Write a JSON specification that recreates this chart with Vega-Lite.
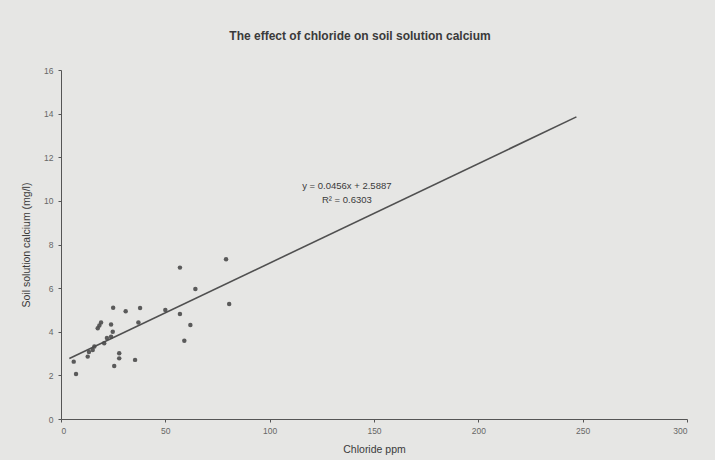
{
  "$schema": "https://vega.github.io/schema/vega-lite/v6.json",
  "autosize": "none",
  "width": 626,
  "height": 349,
  "padding": {"left": 61, "top": 70, "right": 28, "bottom": 41},
  "background": "#e6e6e4",
  "title": {
    "text": "The effect of chloride on soil solution calcium",
    "font": "Liberation Sans",
    "fontSize": 12,
    "fontWeight": "bold",
    "color": "#3a3a3a",
    "anchor": "middle",
    "dx": -14,
    "offset": 23
  },
  "config": {
    "view": {"stroke": null},
    "axis": {
      "labelFont": "Liberation Sans",
      "labelFontSize": 8.5,
      "labelColor": "#666666",
      "titleFont": "Liberation Sans",
      "titleFontSize": 10.5,
      "titleFontWeight": "normal",
      "titleColor": "#3a3a3a",
      "domainColor": "#555555",
      "tickColor": "#555555",
      "tickSize": 3,
      "grid": false
    }
  },
  "datasets": {
    "points": [
      {"chloride": 79.1, "calcium": 7.32},
      {"chloride": 57.0, "calcium": 6.94},
      {"chloride": 64.4, "calcium": 5.96},
      {"chloride": 80.6, "calcium": 5.27},
      {"chloride": 25.0, "calcium": 5.10},
      {"chloride": 31.0, "calcium": 4.94},
      {"chloride": 37.9, "calcium": 5.09},
      {"chloride": 50.0, "calcium": 5.0},
      {"chloride": 57.0, "calcium": 4.81},
      {"chloride": 37.1, "calcium": 4.42},
      {"chloride": 62.0, "calcium": 4.31},
      {"chloride": 59.1, "calcium": 3.59},
      {"chloride": 19.2, "calcium": 4.42},
      {"chloride": 18.4, "calcium": 4.29},
      {"chloride": 17.6, "calcium": 4.16},
      {"chloride": 24.0, "calcium": 4.33},
      {"chloride": 24.8, "calcium": 4.0},
      {"chloride": 24.0, "calcium": 3.77},
      {"chloride": 22.0, "calcium": 3.71},
      {"chloride": 20.7, "calcium": 3.47},
      {"chloride": 16.0, "calcium": 3.32},
      {"chloride": 15.2, "calcium": 3.16},
      {"chloride": 13.4, "calcium": 3.07},
      {"chloride": 12.8, "calcium": 2.86},
      {"chloride": 6.1, "calcium": 2.63},
      {"chloride": 7.2, "calcium": 2.06},
      {"chloride": 27.9, "calcium": 3.01},
      {"chloride": 27.9, "calcium": 2.78},
      {"chloride": 25.5, "calcium": 2.43},
      {"chloride": 35.5, "calcium": 2.71}
    ],
    "trend": [
      {"chloride": 4, "calcium": 2.77},
      {"chloride": 247, "calcium": 13.85}
    ],
    "labels": [
      {"chloride": 137, "calcium": 10.68, "text": "y = 0.0456x + 2.5887"},
      {"chloride": 137, "calcium": 10.06, "text": "R² = 0.6303"}
    ]
  },
  "layer": [
    {
      "data": {"name": "trend"},
      "mark": {"type": "line", "color": "#505050", "strokeWidth": 1.6},
      "encoding": {
        "x": {"field": "chloride", "type": "quantitative"},
        "y": {"field": "calcium", "type": "quantitative"}
      }
    },
    {
      "data": {"name": "points"},
      "mark": {"type": "circle", "color": "#4a4a4a", "opacity": 0.9, "size": 20},
      "encoding": {
        "x": {
          "field": "chloride",
          "type": "quantitative",
          "scale": {"domain": [0, 300], "nice": false},
          "axis": {"values": [0, 50, 100, 150, 200, 250, 300], "title": "Chloride ppm", "titlePadding": 10, "labelPadding": 4}
        },
        "y": {
          "field": "calcium",
          "type": "quantitative",
          "scale": {"domain": [0, 16], "nice": false},
          "axis": {"values": [0, 2, 4, 6, 8, 10, 12, 14, 16], "title": "Soil solution calcium (mg/l)", "titlePadding": 12, "labelPadding": 5}
        }
      }
    },
    {
      "data": {"name": "labels"},
      "mark": {"type": "text", "font": "Liberation Sans", "fontSize": 9.5, "color": "#3a3a3a", "align": "center"},
      "encoding": {
        "x": {"field": "chloride", "type": "quantitative"},
        "y": {"field": "calcium", "type": "quantitative"},
        "text": {"field": "text"}
      }
    }
  ]
}
